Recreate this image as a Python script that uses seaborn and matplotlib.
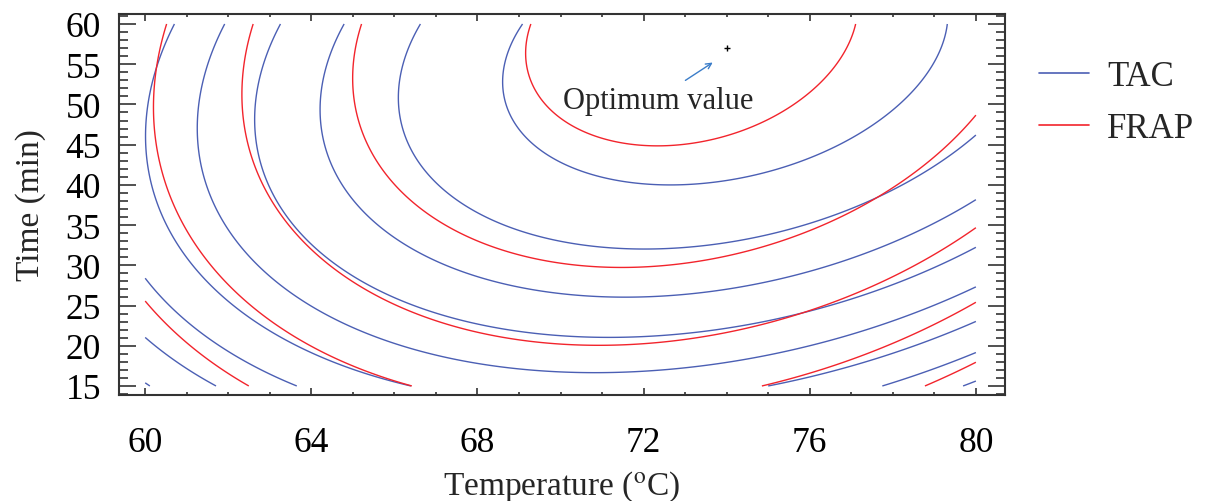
import numpy as np
import matplotlib
matplotlib.use('Agg')
import matplotlib.pyplot as plt
import seaborn as sns
from matplotlib.lines import Line2D
from matplotlib.ticker import MultipleLocator

# response surface models:
# z = b0 + b1*u + b2*v + b11*u^2 + b22*v^2 + b12*u*v,
# u = (T - 70) / 10, v = (t - 37.5) / 22.5
tac_coef = [7.5358, 1.5699, 2.3479, -3.2059, -1.6106, 1.1221]
frap_coef = [3.5237, 0.7896, 1.3734, -2.0621, -0.7924, 0.5282]
tac_levels = [0, 1, 2, 3, 4, 5, 6, 7, 8]
frap_levels = [0, 1, 2, 3, 4]

temp_range = [60, 80]
time_range = [15, 60]
optimum = [74.0, 57.0]
x_ticks = [60, 64, 68, 72, 76, 80]
y_ticks = [15, 20, 25, 30, 35, 40, 45, 50, 55, 60]

TAC_COLOR = '#4b5fb4'
FRAP_COLOR = '#f2242c'


def surface(coef, T, t):
    u = (T - 70) / 10
    v = (t - 37.5) / 22.5
    b0, b1, b2, b11, b22, b12 = coef
    return b0 + b1 * u + b2 * v + b11 * u * u + b22 * v * v + b12 * u * v


sns.set_style('ticks')
plt.rcParams['font.family'] = ['Liberation Serif', 'DejaVu Serif']
plt.rcParams['mathtext.fontset'] = 'stix'

fig = plt.figure(figsize=(12.06, 5.02), dpi=100)
ax = fig.add_axes([0.0987, 0.2112, 0.7346, 0.7589])

T, t = np.meshgrid(np.linspace(temp_range[0], temp_range[1], 400),
                   np.linspace(time_range[0], time_range[1], 400))
ax.contour(T, t, surface(tac_coef, T, t), levels=tac_levels,
           colors=TAC_COLOR, linewidths=1.0)
ax.contour(T, t, surface(frap_coef, T, t), levels=frap_levels,
           colors=FRAP_COLOR, linewidths=1.0)

sns.scatterplot(x=[optimum[0]], y=[optimum[1]], marker='+', s=18,
                color='black', linewidth=1.0, ax=ax, zorder=5)
ax.annotate('', xy=(73.72, 55.4), xytext=(72.95, 52.8),
            arrowprops=dict(arrowstyle='->', color='#3b7dc9', lw=1.0))
ax.text(70.05, 50.5, 'Optimum value', fontsize=22, va='center', ha='left')

ax.set_xlim(59.37, 80.7)
ax.set_ylim(13.88, 61.24)
ax.set_xticks(x_ticks)
ax.set_yticks(y_ticks)
ax.xaxis.set_minor_locator(MultipleLocator(1))
ax.yaxis.set_minor_locator(MultipleLocator(1))
ax.tick_params(axis='both', which='both', direction='in', top=True,
               right=True, colors='#333333', labelcolor='black', width=1.2)
ax.tick_params(axis='y', which='major', length=12, labelsize=25.5, pad=13)
ax.tick_params(axis='y', which='minor', length=6.5)
ax.tick_params(axis='x', which='major', length=5, labelsize=25.5, pad=22)
ax.tick_params(axis='x', which='minor', length=2.5)
for s in ax.spines.values():
    s.set_linewidth(1.5)
    s.set_color('#333333')

ax.set_xlabel('Temperature ($^{\\mathrm{o}}$C)', fontsize=24, labelpad=7)
ax.set_ylabel('Time (min)', fontsize=24, labelpad=14)

handles = [Line2D([], [], color=TAC_COLOR, lw=1.2),
           Line2D([], [], color=FRAP_COLOR, lw=1.2)]
fig.legend(handles, ['TAC', 'FRAP'], loc='upper left',
           bbox_to_anchor=(0.8615, 0.878), frameon=False, fontsize=25,
           borderpad=0, borderaxespad=0,
           handlelength=1.44, handletextpad=0.52, labelspacing=0.55)

fig.savefig('out.png')
